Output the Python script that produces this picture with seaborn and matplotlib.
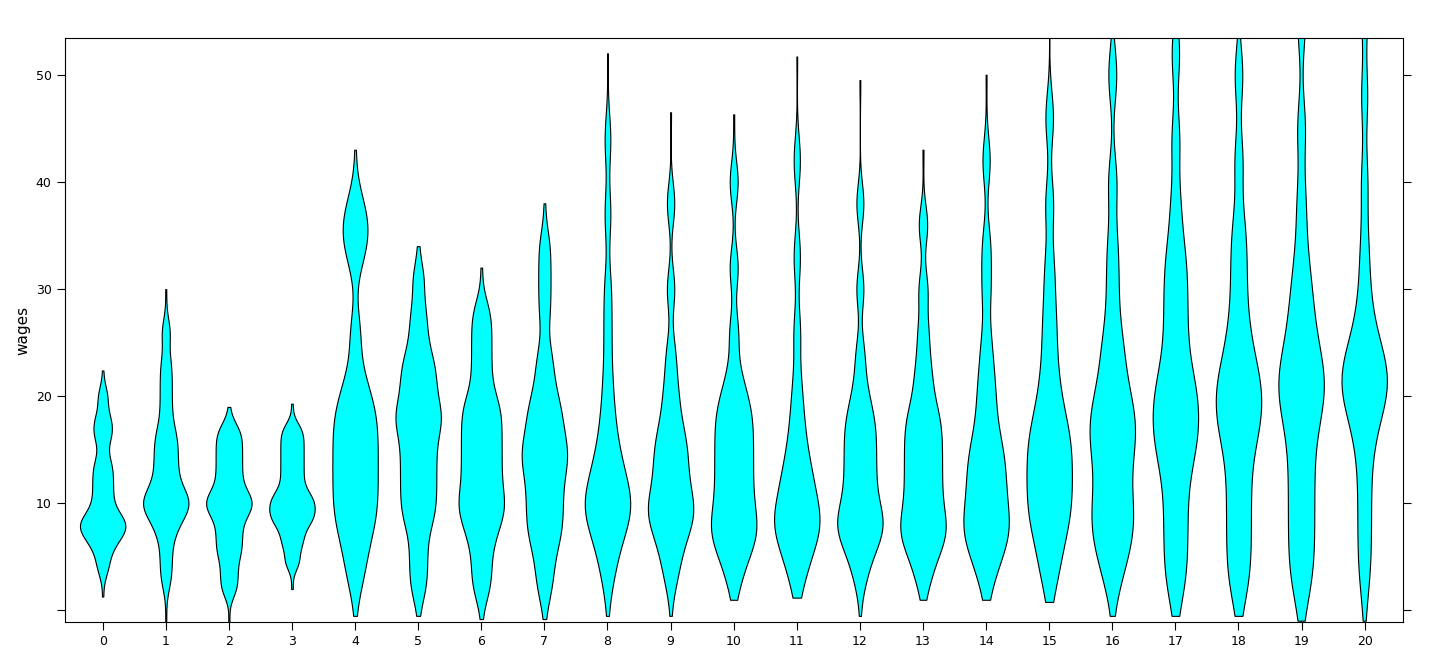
import matplotlib
matplotlib.use("Agg")
import matplotlib.pyplot as plt
import seaborn as sns
import pandas as pd

education = list(range(21))
wages_by_edu = [
    [1.3,4,5.5,6.5,7,7.5,8,8,8.5,9,10,11,12,13,14,16,17,18,20,22.4],
    [-1,3,5,7,8,9,9.5,10,10,10.5,11,12,13,14,15,16,17,19,21,23,26,30],
    [-1.5,2,3.5,5,6,7,8,9,9.5,10,10.5,11,12,13,14,15,16,17,19],
    [2,4.5,6,7,8,8.5,9,9.5,10,10.5,11,12,13,14,15,16,17,19.3],
    [-0.5,3,5,7,8,9,10,11,12,13,14,15,16,17,18,19,20,22,26,33,35,36,38,43],
    [-0.5,2,4,6,8,9,10,11,12,13,14,15,16,17,18,18,19,20,21,22,23,24,26,28,31,34],
    [-0.8,2,4,6,7.5,8.5,9.5,10,11,12,13,14,15,16,17,18,19,20,22,24,26,28,32],
    [-0.8,2,4,6,7,8,9,10,11,12,13,14,14.5,15,16,17,18,19,20,22,24,28,31,34,38],
    [-0.5,3,5,6.5,7.5,8.5,9,9.5,10,10.5,11,12,13,14,15,17,19,22,26,30,37,44,52],
    [-0.5,3,5,6.5,7.5,8.5,9,9.5,10,11,12,13,14,15,16,17,19,21,24,30,38,46.5],
    [1,3,5,6,7,7.5,8,9,10,11,12,13,14,15,16,17,18,19,20,22,26,32,40,46.3],
    [1.2,3,4.5,6,7,7.5,8,8.5,9,10,11,12,13,14,16,18,21,26,33,42,51.7],
    [-0.5,3,5,6,7,7.5,8,8.5,9,10,11,12,13,14,15,16,17,18,19,21,24,30,38,49.5],
    [1,3,5,6,7,7.5,8,9,10,11,12,13,14,15,16,17,18,19,21,23,26,30,36,43],
    [1,3,5,6,7,7.5,8,9,10,11,12,13,14,15,16,18,20,22,25,30,34,42,50],
    [0.8,3,5,7,8,9,10,11,12,13,14,15,16,17,18,20,22,25,28,32,38,46,58],
    [-0.5,3,5,6.5,7.5,8.5,9.5,11,12,14,15,16,17,18,19,20,22,24,26,30,34,40,50,60],
    [-0.5,2,4,6,8,10,12,14,15,16,17,18,19,20,21,22,24,26,28,30,32,34,38,44,52,60],
    [-0.5,2,4,6,8,10,12,14,16,17,18,19,20,21,22,23,25,27,30,33,36,42,50,60],
    [-1,2,4,6,8,10,12,14,16,18,19,20,21,22,23,24,26,28,30,33,38,45,55,62],
    [-1,3,6,9,12,15,17,18.5,19.5,20.5,21,21.5,22,23,24,25,27,30,34,40,48,56,64],
]
core_repeat = 8  # interior points weigh more than the extremes

rows = []
for e, ws in zip(education, wages_by_edu):
    ws_sorted = sorted(ws)
    for i, w in enumerate(ws_sorted):
        n = 1 if i in (0, len(ws_sorted) - 1) else core_repeat
        rows += [(str(e), w)] * n
df = pd.DataFrame(rows, columns=["education", "wages"])

fig = plt.figure(figsize=(14.4, 6.72), dpi=100)
ax = fig.add_axes([0.045, 0.074, 0.929, 0.869])
sns.violinplot(data=df, x="education", y="wages", order=[str(e) for e in education],
               color="#00FFFF", saturation=1, linecolor="black", linewidth=0.8,
               inner=None, cut=0, bw_adjust=0.6, density_norm="width", width=0.72, ax=ax)
ax.set_ylim(-1.1, 53.4)
ax.set_xlim(-0.6, 20.6)
ax.set_yticks([0, 10, 20, 30, 40, 50])
ax.set_yticklabels(["", "10", "20", "30", "40", "50"])
ax.tick_params(axis="y", right=True, labelright=False, direction="out", length=6, labelsize=9)
ax.tick_params(axis="x", direction="out", length=6, labelsize=9)
ax.set_xlabel("")
ax.set_ylabel("wages", fontsize=11)
for s in ax.spines.values():
    s.set_linewidth(0.8)
fig.savefig("out.png", dpi=100)
